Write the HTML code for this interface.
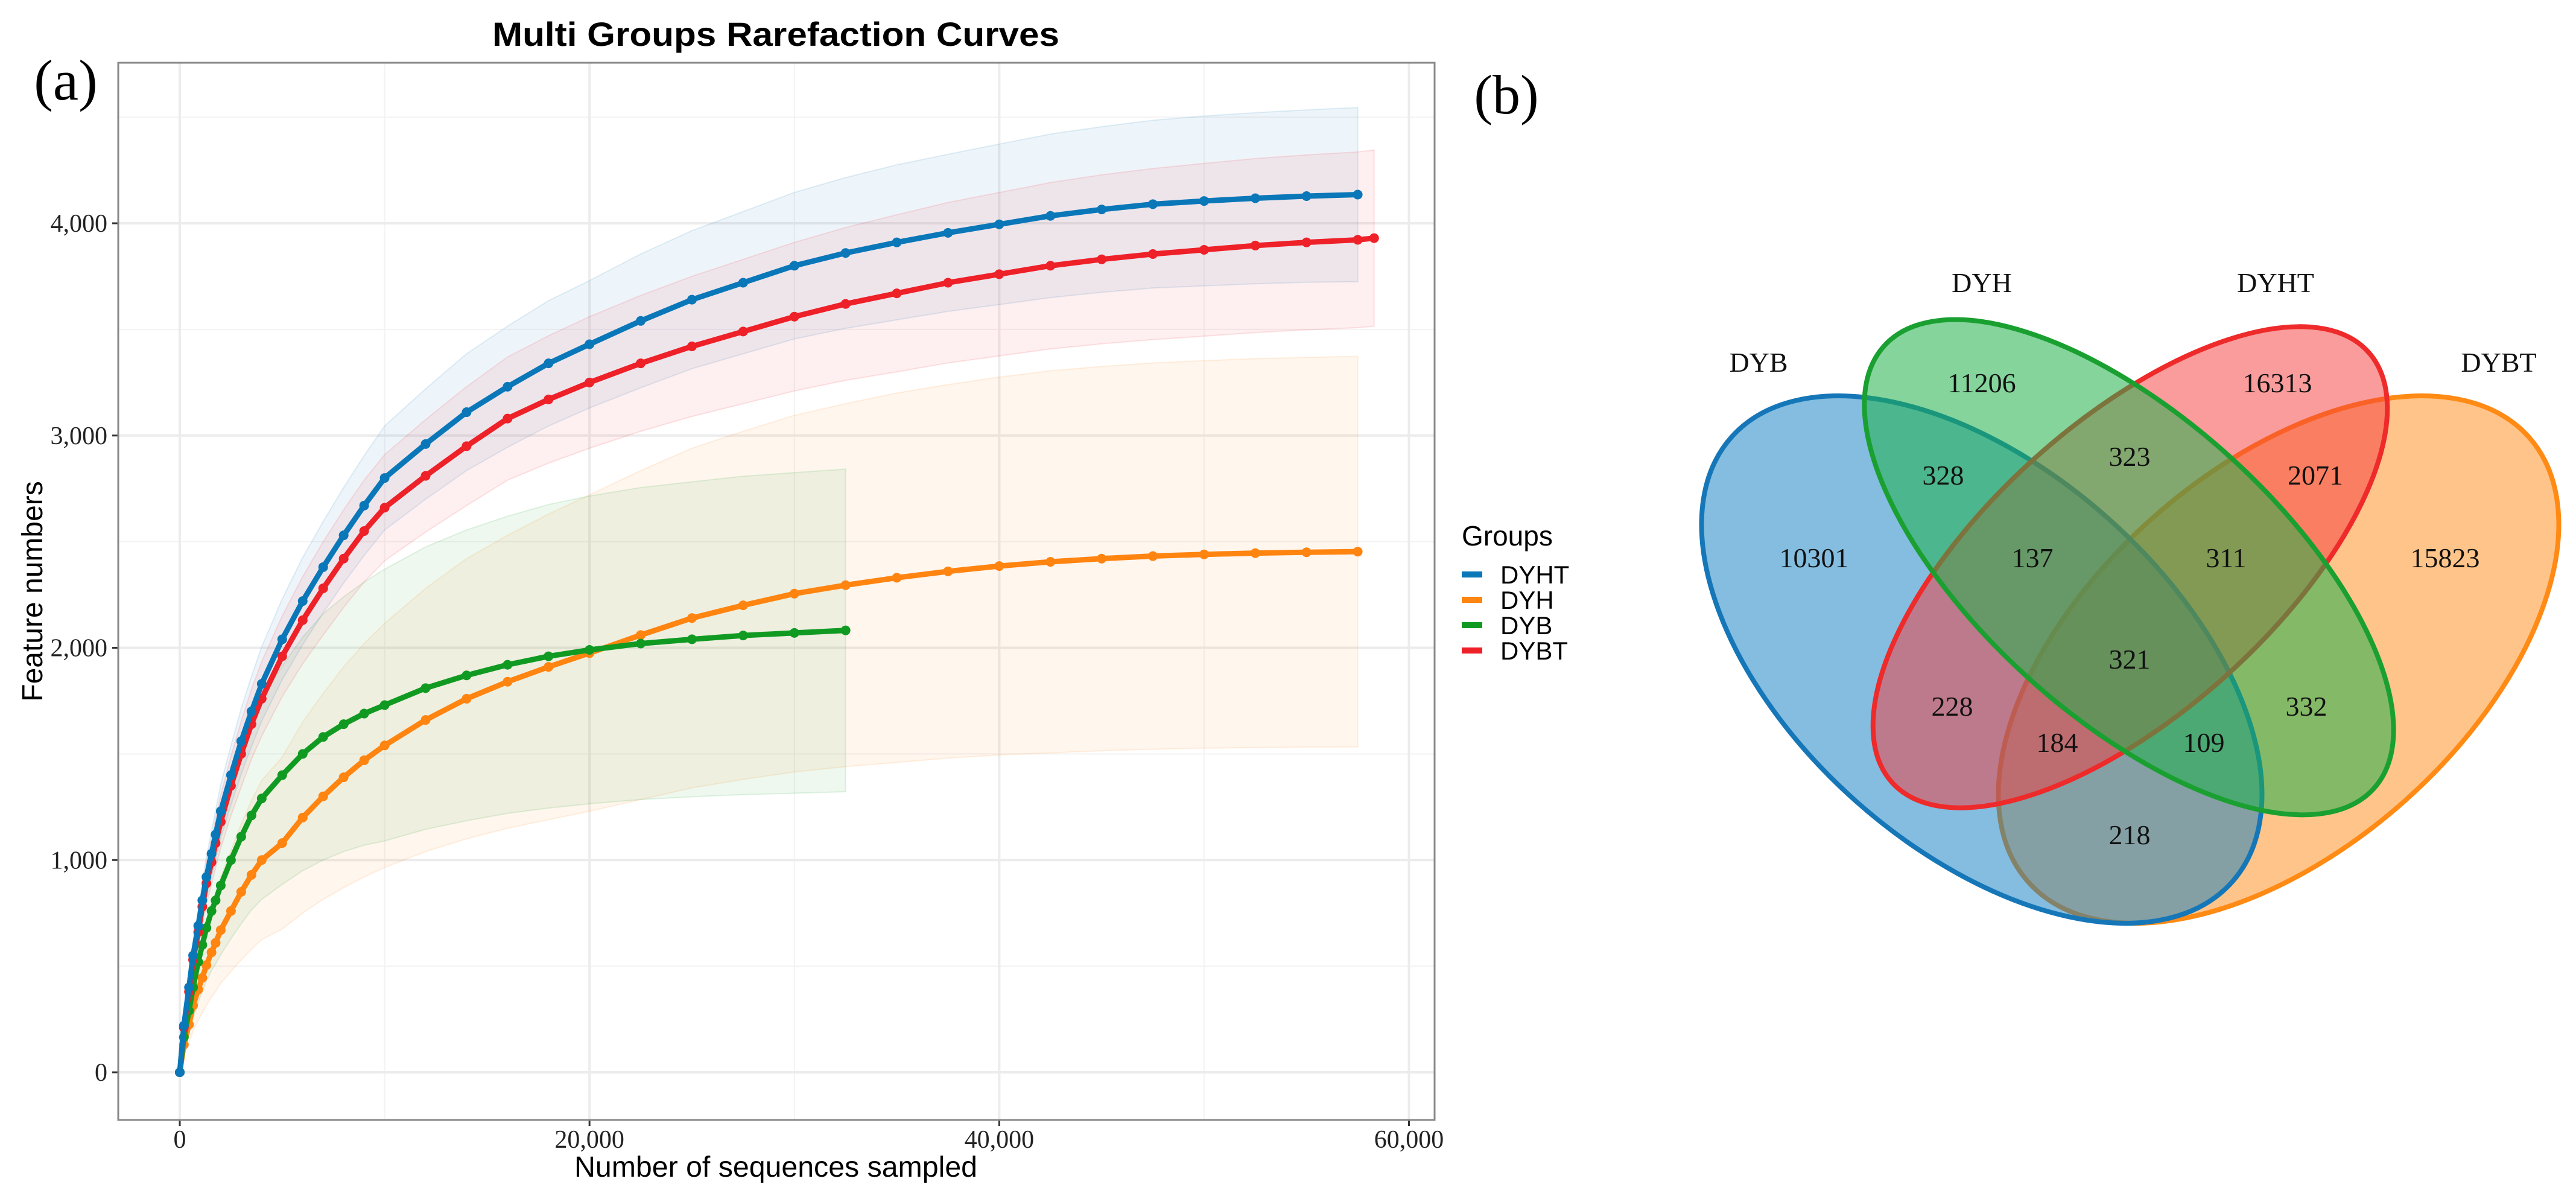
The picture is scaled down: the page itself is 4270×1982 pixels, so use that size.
<!DOCTYPE html>
<html><head><meta charset="utf-8"><style>
html,body{margin:0;padding:0;background:#fff;}
svg{display:block;}
.ser{font-family:"Liberation Serif",serif;}
.sans{font-family:"Liberation Sans",sans-serif;}
</style></head><body>
<svg id="fig" width="4270" height="1982" viewBox="0 0 4270 1982" xmlns="http://www.w3.org/2000/svg">
<rect x="0" y="0" width="4270" height="1982" fill="#fff"/>
<text x="109" y="165" class="ser" font-size="95" text-anchor="middle">(a)</text>
<text x="1286" y="76" class="sans" font-size="56" font-weight="bold" text-anchor="middle" textLength="940" lengthAdjust="spacingAndGlyphs">Multi Groups Rarefaction Curves</text>
<g id="plot"></g>
<rect x="196" y="104" width="2182" height="1752" fill="none" stroke="#888" stroke-width="3"/>
<text x="1286" y="1950" class="sans" font-size="48" text-anchor="middle" textLength="668" lengthAdjust="spacingAndGlyphs">Number of sequences sampled</text>
<text x="0" y="0" class="sans" font-size="48" text-anchor="middle" transform="translate(70,980) rotate(-90)">Feature numbers</text>
<g id="legend">
<text x="2423" y="904" class="sans" font-size="46">Groups</text>
</g>
<text x="2497" y="188" class="ser" font-size="92" text-anchor="middle">(b)</text>
<g id="venn">
<ellipse cx="3777" cy="1093" rx="555" ry="314" transform="rotate(-41.6 3777 1093)" fill="#ff8a14" fill-opacity="0.5" stroke="#ff8a14" stroke-width="8"/>
<ellipse cx="3285" cy="1093" rx="555" ry="314" transform="rotate(41.6 3285 1093)" fill="#0a7cc0" fill-opacity="0.5" stroke="#1677b8" stroke-width="8"/>
<ellipse cx="3531" cy="940" rx="532" ry="240" transform="rotate(-42.1 3531 940)" fill="#f5383a" fill-opacity="0.5" stroke="#ee2a2a" stroke-width="8"/>
<ellipse cx="3529" cy="940" rx="547" ry="248" transform="rotate(42.1 3529 940)" fill="#1fb04a" fill-opacity="0.55" stroke="#1aa030" stroke-width="8"/>
<g class="ser" font-size="46" text-anchor="middle" fill="#111">
<text x="2915" y="616">DYB</text>
<text x="3285" y="484">DYH</text>
<text x="3772" y="484">DYHT</text>
<text x="4142" y="616">DYBT</text>
<text x="3285" y="650">11206</text>
<text x="3775" y="650">16313</text>
<text x="3221" y="803">328</text>
<text x="3530" y="772">323</text>
<text x="3838" y="803">2071</text>
<text x="3007" y="940">10301</text>
<text x="3369" y="940">137</text>
<text x="3690" y="940">311</text>
<text x="4053" y="940">15823</text>
<text x="3530" y="1108">321</text>
<text x="3236" y="1186">228</text>
<text x="3410" y="1246">184</text>
<text x="3653" y="1246">109</text>
<text x="3823" y="1186">332</text>
<text x="3530" y="1399">218</text>
</g>
</g>
</svg>
<script>
const xSamples = [0,200,450,650,900,1100,1300,1550,1750,2000,2500,3000,3500,4000,5000,6000,7000,8000,9000,10000,12000,14000,16000,18000,20000,22500,25000,27500,30000,32500,35000,37500,40000,42500,45000,47500,50000,52500,55000,57500,58300];
const seriesNames = ["DYHT","DYH","DYB","DYBT"];
const seriesColors = ["#0a77b8","#ff8410","#119a22","#ee2028"];
const dyhtValues = [0,220,400,550,690,810,920,1030,1120,1230,1400,1560,1700,1830,2040,2220,2380,2530,2670,2800,2960,3110,3230,3340,3430,3540,3640,3720,3800,3860,3910,3955,3995,4035,4065,4090,4105,4118,4128,4135,null];
const dyhValues = [0,130,225,315,390,445,505,565,610,670,760,850,930,1000,1080,1200,1300,1390,1470,1540,1660,1760,1840,1910,1975,2060,2140,2200,2255,2295,2330,2360,2385,2405,2420,2432,2440,2446,2450,2453,null];
const dybValues = [0,165,290,400,520,600,680,760,810,880,1000,1110,1210,1290,1400,1500,1580,1640,1690,1730,1810,1870,1920,1960,1990,2020,2040,2058,2070,2082,null,null,null,null,null,null,null,null,null,null,null];
const dybtValues = [0,210,380,530,660,780,890,990,1080,1180,1350,1500,1640,1760,1960,2130,2280,2420,2550,2660,2810,2950,3080,3170,3250,3340,3420,3490,3560,3620,3670,3720,3760,3800,3830,3855,3875,3895,3910,3922,3930];
const dyhtSd = [0,25,45,60,75,85,95,105,115,125,140,155,165,175,190,205,215,225,235,245,260,275,285,295,300,315,325,335,345,355,365,370,378,385,390,395,400,403,406,410,null];
const dyhSd = [0,50,85,120,145,165,190,210,230,250,285,320,350,375,405,450,485,520,550,575,620,660,690,720,745,775,800,820,840,855,870,880,890,900,905,910,913,916,918,920,null];
const dybSd = [0,60,105,145,190,220,250,280,300,325,370,410,445,475,515,550,580,600,620,640,665,685,700,715,725,735,742,750,755,760,null,null,null,null,null,null,null,null,null,null,null];
const dybtSd = [0,25,45,60,75,85,95,105,115,125,140,155,165,175,190,205,220,230,240,250,265,280,290,300,310,320,330,340,350,360,370,378,385,392,398,403,407,410,412,414,415];
const yTicks = [0,1000,2000,3000,4000];
const yTickLabels = ["0","1,000","2,000","3,000","4,000"];
const xTicks = [0,20000,40000,60000];
const xTickLabels = ["0","20,000","40,000","60,000"];

const NS="http://www.w3.org/2000/svg";
function X(v){return 298+v*(2335.5-298)/60000;}
function Y(v){return 1777-v*(1777-370)/4000;}
const plot=document.getElementById('plot');
function mk(tag,attrs,parent){const e=document.createElementNS(NS,tag);for(const k in attrs)e.setAttribute(k,attrs[k]);parent.appendChild(e);return e;}
for(let v=500;v<=4500;v+=1000){const l=mk('line',{x1:196,x2:2378,y1:Y(v),y2:Y(v),stroke:'#f3f3f3','stroke-width':2},plot);

}
for(let v=10000;v<=50000;v+=20000){const l=mk('line',{x1:X(v),x2:X(v),y1:104,y2:1856,stroke:'#f3f3f3','stroke-width':2},plot);

}
yTicks.forEach((v,i)=>{const l=mk('line',{x1:196,x2:2378,y1:Y(v),y2:Y(v),stroke:'#ececec','stroke-width':4},plot);


const t=mk('line',{x1:186,x2:196,y1:Y(v),y2:Y(v),stroke:'#333','stroke-width':3},plot);


const tx=mk('text',{x:178,y:Y(v)+14,'font-size':42,'text-anchor':'end',class:'ser',fill:'#222'},plot);tx.textContent=yTickLabels[i];

});
xTicks.forEach((v,i)=>{const l=mk('line',{x1:X(v),x2:X(v),y1:104,y2:1856,stroke:'#ececec','stroke-width':4},plot);


const t=mk('line',{x1:X(v),x2:X(v),y1:1856,y2:1866,stroke:'#333','stroke-width':3},plot);


const tx=mk('text',{x:X(v),y:1902,'font-size':42,'text-anchor':'middle',class:'ser',fill:'#222'},plot);tx.textContent=xTickLabels[i];

});
const allVals=[dyhtValues,dyhValues,dybValues,dybtValues];
const allSd=[dyhtSd,dyhSd,dybSd,dybtSd];
allVals.forEach((vals,s)=>{let up=[],lo=[];xSamples.forEach((x,i)=>{if(vals[i]==null)return;up.push(X(x)+','+Y(vals[i]+allSd[s][i]));lo.unshift(X(x)+','+Y(vals[i]-allSd[s][i]));});
const p=mk('polygon',{points:up.concat(lo).join(' '),fill:seriesColors[s],'fill-opacity':0.07,stroke:seriesColors[s],'stroke-opacity':0.12,'stroke-width':2},plot);

});
[1,2,3,0].forEach(s=>{const vals=allVals[s];let pts=[];xSamples.forEach((x,i)=>{if(vals[i]!=null)pts.push(X(x)+','+Y(vals[i]));});
const pl=mk('polyline',{points:pts.join(' '),fill:'none',stroke:seriesColors[s],'stroke-width':9,'stroke-linejoin':'round'},plot);


xSamples.forEach((x,i)=>{if(vals[i]==null)return;const c=mk('circle',{cx:X(x),cy:Y(vals[i]),r:8,fill:seriesColors[s]},plot);

});});
const lg=document.getElementById('legend');
seriesNames.forEach((n,i)=>{const y=952+i*42;
const l=mk('line',{x1:2423,x2:2457,y1:y,y2:y,stroke:seriesColors[i],'stroke-width':10},lg);


const t=mk('text',{x:2487,y:y+15,'font-size':42,class:'sans'},lg);t.textContent=n;

});
</script>
</body></html>
